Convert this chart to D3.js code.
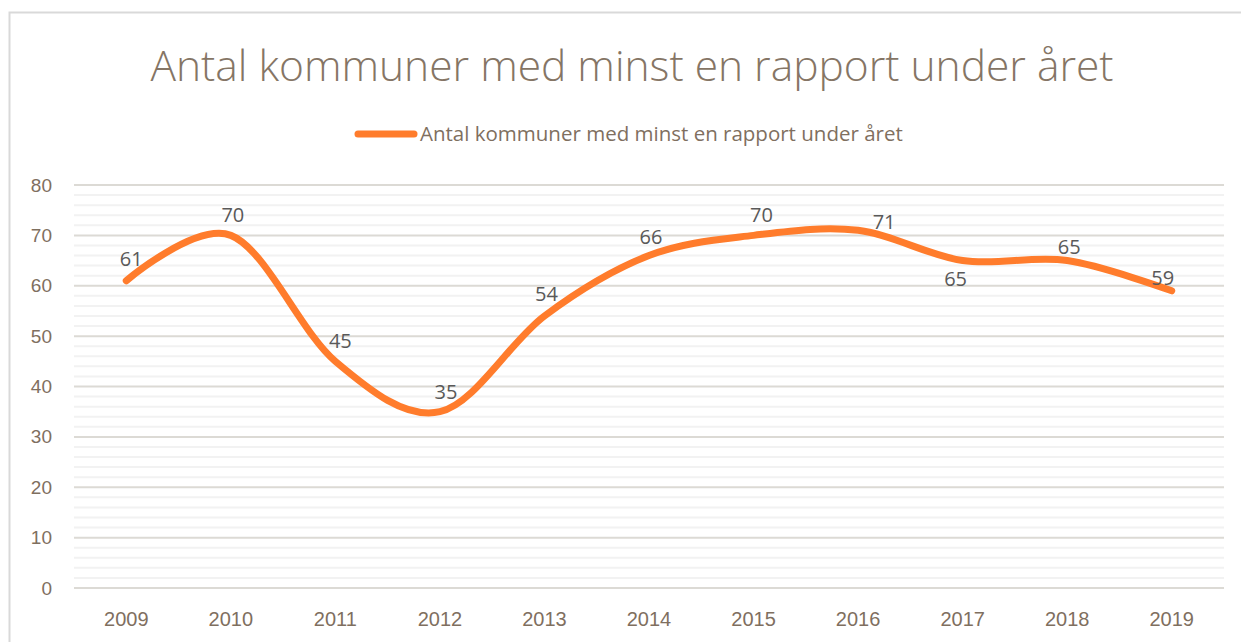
<!DOCTYPE html>
<html>
<head>
<meta charset="utf-8">
<script src="https://cdn.jsdelivr.net/npm/d3@7"></script>
<style>
  body { margin: 0; background: #fff; }
  svg { display: block; font-family: "Open Sans", "Noto Sans", sans-serif; }
</style>
</head>
<body>
<svg id="chart"></svg>
<script>
const width = 1241;
const height = 642;

// data
const years = ["2009", "2010", "2011", "2012", "2013", "2014", "2015", "2016", "2017", "2018", "2019"];
const counts = [61, 70, 45, 35, 54, 66, 70, 71, 65, 65, 59];
const yTicks = [0, 10, 20, 30, 40, 50, 60, 70, 80];
const seriesName = "Antal kommuner med minst en rapport under året";
const titleText = "Antal kommuner med minst en rapport under året";

// label placement (dx, dy relative to the point), like the hand-moved excel labels
const labelOffsets = [
  [5, -22], [2, -20], [5, -20], [6, -20], [2, -22], [2, -19],
  [8, -20], [26, -8], [-7, 18], [2, -14], [-9, -13]
];

const margin = {top: 185, right: 17, bottom: 54, left: 74};

const svg = d3.select("#chart")
  .attr("width", width)
  .attr("height", height);

// outer frame
svg.append("rect")
  .attr("x", 9.5).attr("y", 12.5)
  .attr("width", width + 10).attr("height", height)
  .attr("fill", "#fff")
  .attr("stroke", "#d9d9d9")
  .attr("stroke-width", 2);

const x = d3.scaleBand()
  .domain(years)
  .range([margin.left, width - margin.right]);

const y = d3.scaleLinear()
  .domain([0, 80])
  .range([height - margin.bottom, margin.top]);

// minor gridlines every 2
const minor = d3.range(0, 81, 2).filter(v => v % 10 !== 0);
svg.append("g")
  .selectAll("line")
  .data(minor)
  .enter()
  .append("line")
  .attr("x1", margin.left)
  .attr("x2", width - margin.right)
  .attr("y1", d => y(d))
  .attr("y2", d => y(d))
  .attr("stroke", "#f2f2f2")
  .attr("stroke-width", 2);

// major gridlines
svg.append("g")
  .selectAll("line")
  .data(yTicks)
  .enter()
  .append("line")
  .attr("x1", margin.left)
  .attr("x2", width - margin.right)
  .attr("y1", d => y(d))
  .attr("y2", d => y(d))
  .attr("stroke", "#dcdad5")
  .attr("stroke-width", 2);

// y axis labels
const yAxis = svg.append("g")
  .attr("transform", `translate(${margin.left - 22},0)`)
  .call(d3.axisLeft(y).tickValues(yTicks).tickSize(0).tickPadding(0));
yAxis.select(".domain").remove();
yAxis.selectAll("text")
  .attr("fill", "#7f6f5f")
  .attr("font-size", 19);

// x axis labels
const xAxis = svg.append("g")
  .attr("transform", `translate(0,${height - margin.bottom})`)
  .call(d3.axisBottom(x).tickSize(0).tickPadding(24));
xAxis.select(".domain").remove();
xAxis.selectAll("text")
  .attr("fill", "#7f6f5f")
  .attr("font-size", 20);

// smoothed line
const line = d3.line()
  .x((d, i) => x(years[i]) + x.bandwidth() / 2)
  .y(d => y(d))
  .curve(d3.curveCardinal.tension(0));

svg.append("path")
  .datum(counts)
  .attr("d", line)
  .attr("fill", "none")
  .attr("stroke", "#ff7c2c")
  .attr("stroke-width", 7)
  .attr("stroke-linecap", "round")
  .attr("stroke-linejoin", "round");

// data labels
svg.append("g")
  .selectAll("text")
  .data(counts)
  .enter()
  .append("text")
  .attr("x", (d, i) => x(years[i]) + x.bandwidth() / 2 + labelOffsets[i][0])
  .attr("y", (d, i) => y(d) + labelOffsets[i][1])
  .attr("dy", "0.35em")
  .attr("text-anchor", "middle")
  .attr("font-size", 20)
  .attr("fill", "#595959")
  .text(d => d);

// title
svg.append("text")
  .attr("x", 632)
  .attr("y", 81)
  .attr("text-anchor", "middle")
  .attr("font-size", 42.5)
  .attr("font-weight", 300)
  .attr("fill", "#857565")
  .text(titleText);

// legend
svg.append("line")
  .attr("x1", 358).attr("x2", 414)
  .attr("y1", 134).attr("y2", 134)
  .attr("stroke", "#ff7c2c")
  .attr("stroke-width", 7)
  .attr("stroke-linecap", "round");

svg.append("text")
  .attr("x", 420)
  .attr("y", 134)
  .attr("dy", "0.35em")
  .attr("font-size", 20.5)
  .attr("fill", "#7f6f5f")
  .text(seriesName);
</script>
</body>
</html>
